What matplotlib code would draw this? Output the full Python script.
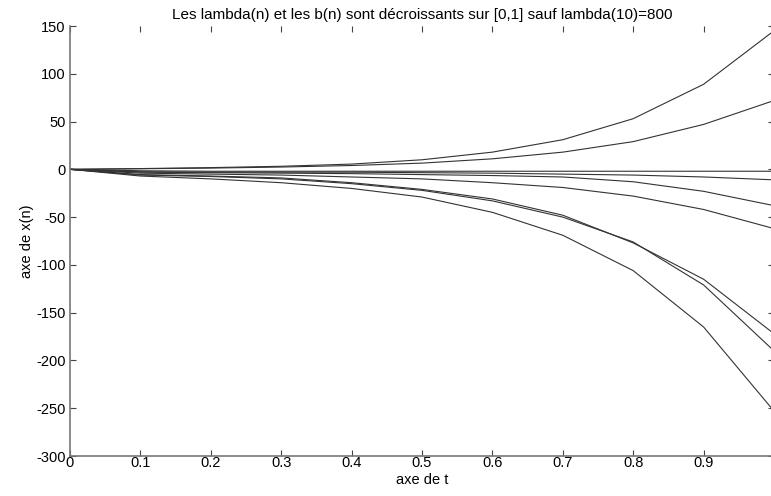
import matplotlib
matplotlib.use("Agg")
from matplotlib import pyplot as plt
import numpy as np

plt.rcParams['font.family'] = ['Liberation Sans', 'DejaVu Sans']
plt.rcParams['axes.unicode_minus'] = False

t = [0, 0.1, 0.2, 0.3, 0.4, 0.5, 0.6, 0.7, 0.8, 0.9, 1.0]

# one curve x(n)(t) per n
x1 = [0, 0.8, 1.8, 3.2, 5.5, 10, 18, 31, 53, 89, 145]
x2 = [0, 0.6, 1.3, 2.4, 4, 6.5, 11, 18, 29, 47, 72]
x3 = [0, -1.5, -2, -2, -2, -2, -2, -2, -2, -2, -2]
x4 = [0, -2.5, -3, -3, -3, -3.5, -4, -5, -6, -8, -11]
x5 = [0, -3, -3.5, -4, -4.5, -5.5, -6.5, -8, -13, -23, -38]
x6 = [0, -4, -5, -6, -8, -10, -14, -19, -28, -42, -62]
x7 = [0, -5.5, -7, -9, -14, -21, -31, -48, -77, -115, -172]
x8 = [0, -6, -7.5, -10, -15, -22, -33, -50, -76, -121, -190]
x9 = [0, -7, -10, -14, -20, -29, -45, -69, -106, -165, -253]

curves = [x1, x2, x3, x4, x5, x6, x7, x8, x9]

xticks = [0, 0.1, 0.2, 0.3, 0.4, 0.5, 0.6, 0.7, 0.8, 0.9, 1]
xticklabels = ["0", "0.1", "0.2", "0.3", "0.4", "0.5", "0.6", "0.7", "0.8", "0.9", "1"]
yticks = [-300, -250, -200, -150, -100, -50, 0, 50, 100, 150]


def plot():
    fig = plt.figure(figsize=(7.71, 4.96), dpi=100)
    ax = fig.add_axes([70 / 771, 1 - 456 / 496, 704 / 771, 430 / 496])

    for c in curves:
        ax.plot(t, c, color="#333333", linewidth=0.8)

    ax.set_xlim(0, 1)
    ax.set_ylim(-300, 150)
    ax.set_xticks(xticks)
    ax.set_xticklabels(xticklabels)
    ax.set_yticks(yticks)

    for side in ["top", "right"]:
        ax.spines[side].set_visible(False)
    for side in ["left", "bottom"]:
        ax.spines[side].set_color("#777777")
        ax.spines[side].set_linewidth(1.2)

    ax.tick_params(axis="both", direction="in", length=4, width=0.8,
                   color="#444444", labelsize=10.5, top=True, right=True)
    ax.tick_params(axis="x", pad=0)
    ax.tick_params(axis="y", pad=3)

    ax.set_title("Les lambda(n) et les b(n) sont décroissants sur [0,1] sauf lambda(10)=800",
                 fontsize=11, pad=5)
    ax.set_xlabel("axe de t", fontsize=10.5, labelpad=2)
    ax.set_ylabel("axe de x(n)", fontsize=10.5, labelpad=2)

    fig.savefig("out.png", dpi=100)


if __name__ == '__main__':
    plot()
